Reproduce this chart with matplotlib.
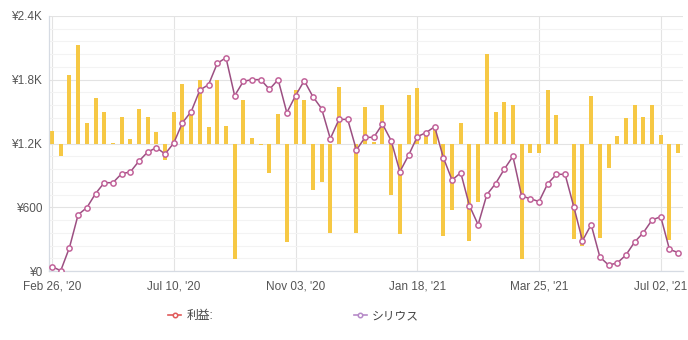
import matplotlib
matplotlib.use("Agg")
import matplotlib.pyplot as plt
from matplotlib.lines import Line2D
from matplotlib.ticker import MultipleLocator, FuncFormatter

plt.rcParams['font.family'] = ['Liberation Sans', 'Noto Sans CJK JP', 'DejaVu Sans']

# cumulative balance (yen), one point per period
balance = [41, 3, 220, 530, 596, 728, 831, 831, 916, 932,
           1035, 1120, 1161, 1101, 1205, 1396, 1500, 1703, 1754, 1954,
           2008, 1650, 1785, 1801, 1801, 1710, 1801, 1490, 1650, 1791,
           1641, 1528, 1245, 1427, 1427, 1139, 1258, 1258, 1383, 1227,
           935, 1089, 1264, 1302, 1358, 1067, 856, 925, 615, 436,
           718, 822, 957, 1079, 706, 681, 653, 822, 910, 910,
           605, 285, 436, 132, 56, 75, 151, 273, 361, 480,
           511, 204, 173]

# per-period result, drawn as bars around the 1.2K line
weekly = [119, -122, 649, 931, 191, 427, 292, 9, 248, 47,
          323, 248, 104, -151, 292, 562, 304, 596, 157, 593,
          163, -1089, 405, 53, -13, -282, 282, -929, 505, 405,
          -436, -358, -838, 536, 0, -847, 339, 10, 367, -480,
          -856, 458, 518, 100, 148, -866, -627, 194, -922, -546,
          847, 301, 392, 358, -1089, -85, -85, 499, 264, -6,
          -901, -969, 445, -894, -235, 69, 238, 367, 248, 367,
          78, -907, -94]
bar_base = 1200

tick_pos = [0, 14, 28, 42, 56, 70]
tick_labels = ["Feb 26, '20", "Jul 10, '20", "Nov 03, '20",
               "Jan 18, '21", "Mar 25, '21", "Jul 02, '21"]

x = list(range(len(balance)))

fig = plt.figure(figsize=(6.88, 3.40), dpi=100)
ax = fig.add_axes([49 / 688, 1 - 271 / 340, (683 - 49) / 688, (271 - 16) / 340])

ax.bar(x, weekly, bottom=bar_base, width=0.46, color='#f6c844', zorder=2)
ax.plot(x, balance, color='#9c4f82', lw=1.1, marker='o', ms=3.8,
        mfc='white', mec='#c2639a', mew=1.1, zorder=3)

ax.set_xlim(-0.35, 72.56)
ax.set_ylim(0, 2400)
ax.yaxis.set_major_locator(MultipleLocator(600))
ax.yaxis.set_minor_locator(MultipleLocator(120))

def yen(v, pos):
    if v == 0:
        return '¥0'
    if v >= 1000:
        return '¥{:.1f}K'.format(v / 1000)
    return '¥{:.0f}'.format(v)

ax.yaxis.set_major_formatter(FuncFormatter(yen))
ax.set_xticks(tick_pos)
ax.set_xticklabels(tick_labels)

ax.grid(True, which='major', color='#e3e3e3', lw=0.8, zorder=0)
ax.grid(True, which='minor', axis='y', color='#f3f3f3', lw=0.8, zorder=0)
ax.tick_params(which='both', length=0, labelsize=8.5, colors='#555555')
ax.tick_params(axis='y', pad=5)
ax.tick_params(axis='x', pad=7)
for side in ['top', 'right']:
    ax.spines[side].set_visible(False)
for side in ['left', 'bottom']:
    ax.spines[side].set_color('#d6dbe3')
    ax.spines[side].set_linewidth(0.9)

handles = [
    Line2D([], [], color='#e05a5a', lw=1.2, marker='o', ms=3.2,
           mfc='white', mec='#e05a5a', mew=1.1),
    Line2D([], [], color='#b68ac8', lw=1.2, marker='o', ms=3.2,
           mfc='white', mec='#b68ac8', mew=1.1),
]
fig.legend(handles, ['利益:', 'シリウス'], loc='center', ncol=2,
           bbox_to_anchor=(0.427, 0.07), frameon=False, fontsize=8.5,
           handlelength=1.1, handletextpad=0.45, columnspacing=11.9,
           labelcolor='#444444')

fig.savefig('out.png', dpi=100)
